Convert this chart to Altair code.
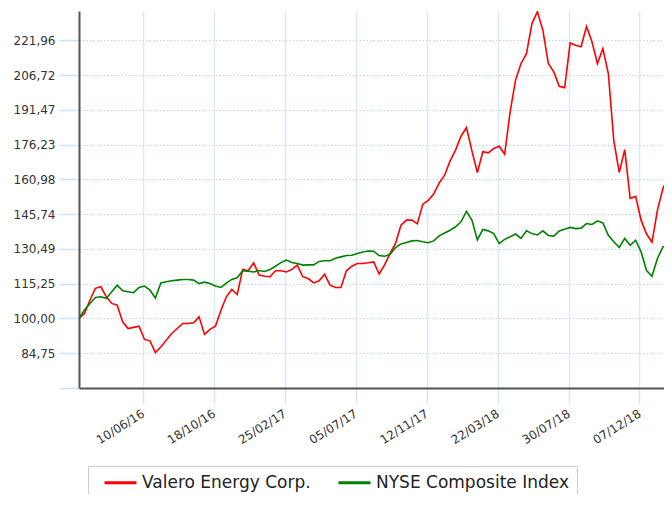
import altair as alt
import pandas as pd

# ---- data (indexed performance, start = 100) ----
start_date = "2016-02-14"
step = "10D"

valero = [100.0, 102.2, 108.0, 113.2, 113.9, 109.5, 106.6, 105.8, 98.5, 95.6,
          96.1, 96.6, 90.8, 90.2, 85.0, 87.5, 90.5, 93.4, 95.6, 97.8,
          97.8, 98.1, 100.7, 93.0, 95.2, 96.6, 103.5, 109.5, 112.7, 110.5,
          121.5, 120.9, 124.4, 119.0, 118.5, 118.3, 120.9, 120.9, 120.4, 121.5,
          123.4, 118.3, 117.5, 115.6, 116.5, 119.4, 114.6, 113.6, 113.6, 120.9,
          122.9, 124.1, 124.1, 124.4, 124.8, 119.5, 123.5, 128.5, 132.9, 140.9,
          143.1, 143.1, 141.5, 150.1, 151.8, 154.5, 159.4, 162.8, 169.1, 173.8,
          179.9, 183.7, 173.5, 164.0, 173.1, 172.6, 174.5, 175.5, 172.0, 190.6,
          204.5, 211.8, 216.1, 229.3, 234.5, 226.4, 211.8, 208.1, 201.8, 201.2,
          220.8, 219.8, 219.1, 228.0, 221.3, 211.8, 218.3, 207.4, 178.0, 164.0,
          174.0, 152.6, 153.5, 143.1, 137.0, 133.5, 147.5, 157.0, 162.0]

nyse = [100.0, 103.7, 106.6, 109.2, 109.5, 108.8, 111.7, 114.6, 112.1, 111.7,
        111.3, 113.6, 114.2, 112.4, 109.0, 115.6, 116.1, 116.5, 116.8, 117.1,
        117.1, 116.8, 115.3, 115.9, 115.3, 114.2, 113.6, 115.5, 117.1, 117.8,
        120.9, 120.7, 120.4, 121.0, 120.6, 121.5, 122.9, 124.5, 125.6, 124.5,
        124.1, 123.4, 123.5, 123.5, 125.0, 125.3, 125.3, 126.4, 127.0, 127.6,
        127.7, 128.5, 129.1, 129.6, 129.5, 127.6, 127.3, 128.0, 131.1, 132.7,
        133.3, 134.0, 134.2, 133.6, 133.2, 134.0, 136.2, 137.5, 138.7, 140.2,
        142.4, 147.0, 143.1, 134.5, 139.0, 138.4, 137.2, 132.8, 134.7, 135.8,
        137.0, 135.1, 138.4, 137.2, 136.6, 138.4, 136.4, 136.1, 138.4, 139.1,
        139.9, 139.4, 139.6, 141.6, 141.2, 142.8, 141.9, 136.5, 133.6, 131.1,
        135.1, 132.1, 134.3, 129.2, 121.0, 118.5, 126.3, 131.4, 132.1]

series_names = ["Valero Energy Corp.", "NYSE Composite Index"]
series_colors = ["#ff0000", "#008000"]

y_ticks = [69.51, 84.75, 100.00, 115.25, 130.49, 145.74, 160.98,
           176.23, 191.47, 206.72, 221.96]
x_ticks = [(2016, 6, 10), (2016, 10, 18), (2017, 2, 25), (2017, 7, 5),
           (2017, 11, 12), (2018, 3, 22), (2018, 7, 30), (2018, 12, 7)]

dates = pd.date_range(start_date, periods=len(valero), freq=step)

rows = []
for name, vals in zip(series_names, [valero, nyse]):
    for d, v in zip(dates, vals):
        rows.append({"date": d.strftime("%Y-%m-%dT00:00:00"), "value": v, "series": name})
df = pd.DataFrame(rows)

font = "DejaVu Sans"

x_axis = alt.Axis(
    values=[alt.DateTime(year=y, month=m, date=d) for (y, m, d) in x_ticks],
    format="%d/%m/%y",
    labelAngle=-32,
    labelAlign="right",
    labelBaseline="middle",
    labelPadding=9,
    labelFont=font,
    labelFontSize=12,
    labelColor="#333333",
    tickSize=15,
    tickColor="#d6e5f5",
    tickWidth=1.5,
    grid=True,
    gridColor="#dce9f7",
    gridWidth=1.5,
    domainColor="#555555",
    domainWidth=2,
    title=None,
)

y_axis = alt.Axis(
    values=y_ticks,
    labelExpr="datum.value < 70 ? '' : replace(format(datum.value, '.2f'), '.', ',')",
    labelFont=font,
    labelFontSize=12,
    labelColor="#333333",
    labelPadding=4,
    tickSize=20,
    tickColor="#cfe0f3",
    tickWidth=1.5,
    grid=True,
    gridColor="#bcd5ef",
    gridDash=[1.5, 2],
    gridWidth=1,
    domainColor="#555555",
    domainWidth=2,
    title=None,
)

legend = alt.Legend(
    title=None,
    orient="none",
    legendX=9,
    legendY=455,
    direction="horizontal",
    symbolType="M0,0H6.4",
    symbolSize=100,
    symbolStrokeWidth=3,
    labelFont=font,
    labelFontSize=17,
    labelColor="#222222",
    labelLimit=300,
    labelOffset=29,
    columnPadding=19,
    padding=8,
    strokeColor="#cccccc",
    fillColor="white",
)

chart = (
    alt.Chart(df)
    .mark_line(strokeWidth=1.6, clip=True)
    .encode(
        x=alt.X("date:T",
                scale=alt.Scale(domain=[alt.DateTime(year=2016, month=2, date=14),
                                        alt.DateTime(year=2019, month=1, date=21)],
                                nice=False),
                axis=x_axis),
        y=alt.Y("value:Q",
                scale=alt.Scale(domain=[69.51, 234.8], nice=False, zero=False),
                axis=y_axis),
        color=alt.Color("series:N",
                        scale=alt.Scale(domain=series_names, range=series_colors),
                        sort=series_names,
                        legend=legend),
        detail="series:N",
    )
    .properties(
        width=585,
        height=377,
        autosize=alt.AutoSizeParams(type="none"),
        padding={"left": 71, "top": 3, "right": 0, "bottom": 106},
        background="white",
    )
    .configure_view(stroke=None)
)

chart.save("out.html", embed_options={"renderer": "svg", "actions": False})
